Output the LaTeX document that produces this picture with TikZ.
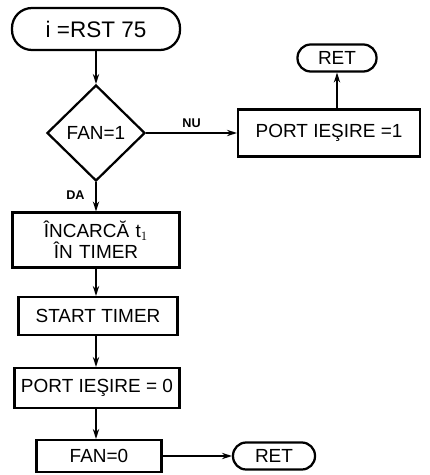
\documentclass[tikz,border=0pt]{standalone}
\usepackage{fontspec}
\setmainfont{Liberation Sans}
\usetikzlibrary{shapes.geometric,arrows.meta}

\begin{document}
\begin{tikzpicture}[
    line width=1.6pt,
    every node/.style={font=\fontsize{13.5}{15}\selectfont},
    term/.style={draw, rounded corners=0.33cm, inner sep=0pt},
    proc/.style={draw, inner sep=0pt, align=center},
    test/.style={draw, diamond, inner sep=0pt},
    flow/.style={-{Stealth[length=7pt,width=4.5pt]}},
    lbl/.style={font=\fontsize{9}{10}\bfseries\selectfont}
]
    % Frame
    \useasboundingbox (0,0) rectangle (10.75,-11.875);

    % Start
    \node[term, minimum width=4.2cm, minimum height=1.05cm, rounded corners=0.5cm, font=\fontsize{16}{18}\selectfont] (start) at (2.4,-0.725) {i =RST 75};

    % Test
    \node[test, minimum width=2.45cm, minimum height=2.4cm] (fan1) at (2.4,-3.325) {FAN=1};

    % NU branch
    \node[proc, minimum width=4.55cm, minimum height=1.175cm] (port1) at (8.225,-3.325) {PORT IEŞIRE =1};
    \node[term, minimum width=1.975cm, minimum height=0.675cm] (ret1) at (8.425,-1.45) {RET};

    % DA branch
    \node[proc, minimum width=4.175cm, minimum height=1.375cm, text width=4cm] (load) at (2.4,-6.0) {ÎNCARCĂ t$_{1}$\\ÎN TIMER};
    \node[proc, minimum width=3.975cm, minimum height=0.95cm] (start timer) at (2.45,-7.9) {START TIMER};
    \node[proc, minimum width=4.125cm, minimum height=1.0cm] (port0) at (2.425,-9.7) {PORT IEŞIRE = 0};
    \node[proc, minimum width=3.125cm, minimum height=0.8cm] (fan0) at (2.475,-11.4) {FAN=0};
    \node[term, minimum width=2.05cm, minimum height=0.675cm] (ret2) at (6.85,-11.4) {RET};

    % Connectors
    \draw[flow] (start.south) -- (start.south |- fan1.north);
    \draw[flow] (fan1.east) -- (port1.west) node[lbl, midway, above] {NU};
    \draw[flow] (port1.north -| ret1.south) -- (ret1.south);
    \draw[flow] (fan1.south) -- (fan1.south |- load.north) node[lbl, pos=0.45, left=4pt] {DA};
    \draw[flow] (load.south) -- (load.south |- start timer.north);
    \draw[flow] (start timer.south -| load.south) -- (load.south |- port0.north);
    \draw[flow] (port0.south -| load.south) -- (load.south |- fan0.north);
    \draw[flow] (fan0.east) -- (ret2.west);
\end{tikzpicture}
\end{document}
